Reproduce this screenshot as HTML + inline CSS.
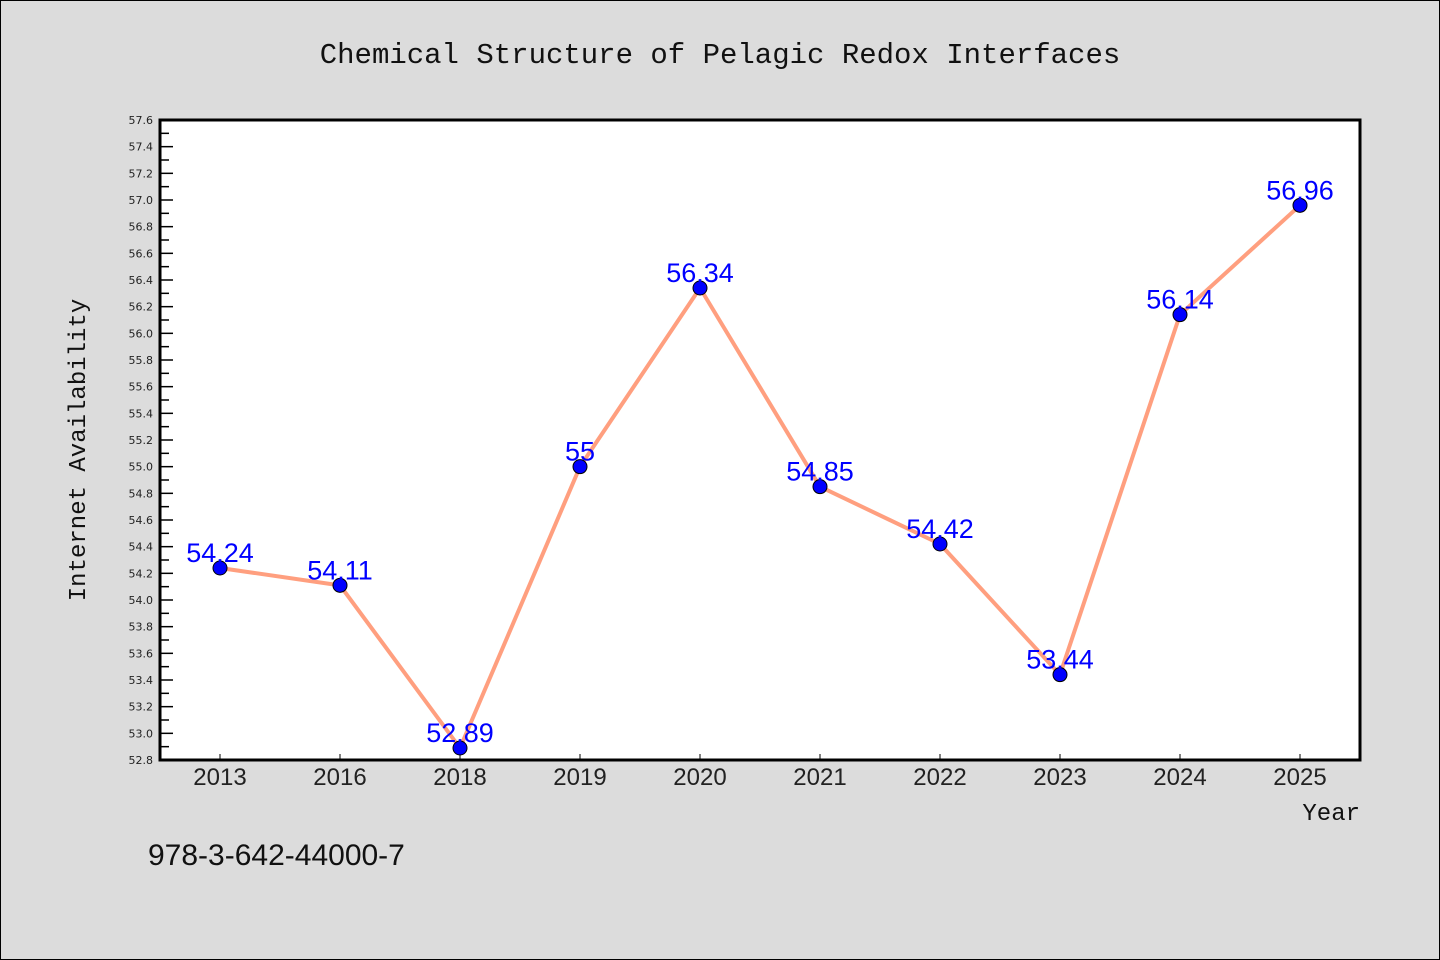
<!DOCTYPE html>
<html><head><meta charset="utf-8"><style>
body{margin:0;background:#dcdcdc;}
svg{display:block;font-family:"Liberation Mono","Noto Sans CJK SC",monospace;}
</style></head><body>
<svg id="chart" width="1440" height="960" xmlns="http://www.w3.org/2000/svg">
<rect x="0.5" y="0.5" width="1439" height="959" fill="#dcdcdc" stroke="#000" stroke-width="1"/>
<text x="720" y="63" text-anchor="middle" font-size="29" fill="#111">Chemical Structure of Pelagic Redox Interfaces</text>
<rect x="160" y="120" width="1200" height="640" fill="#fff"/>
<g id="yticks"></g>
<g id="xticks"></g>
<g id="series"></g>
<rect x="160" y="120" width="1200" height="640" fill="none" stroke="#000" stroke-width="3"/>
<text transform="translate(85,450) rotate(-90)" text-anchor="middle" font-size="24" fill="#111">Internet Availability</text>
<text x="1360" y="820" text-anchor="end" font-size="24" fill="#111">Year</text>
<text x="148" y="865" font-size="30" fill="#111" font-family="Liberation Sans, sans-serif">978-3-642-44000-7</text>
</svg>
<script>
const categories=["2013","2016","2018","2019","2020","2021","2022","2023","2024","2025"];
const values=[54.24,54.11,52.89,55,56.34,54.85,54.42,53.44,56.14,56.96];
const labels=["54.24","54.11","52.89","55","56.34","54.85","54.42","53.44","56.14","56.96"];
const yMin=52.8,yMax=57.6;
const NS="http://www.w3.org/2000/svg";
const L=160,R=1360,T=120,B=760;
function x(i){return L+(R-L)/categories.length*(i+0.5);}
function y(v){return B-(v-yMin)/(yMax-yMin)*(B-T);}
function mk(tag,attrs,parent){const e=document.createElementNS(NS,tag);for(const k in attrs)e.setAttribute(k,attrs[k]);parent.appendChild(e);return e;}
const yt=document.getElementById('yticks');
for(let k=0;k<=48;k++){
  const v=yMin+k*0.1;const yy=y(v);const major=k%2===0;
  const ln=mk('line',{x1:L,x2:L+(major?13:9),y1:yy,y2:yy,stroke:'#000','stroke-width':1.5},yt);
  
  
  if(major){
    const t=mk('text',{x:153,y:yy+4,'text-anchor':'end','font-size':11,fill:'#222','font-family':'DejaVu Sans, sans-serif'},yt);
    
    
    t.textContent=v.toFixed(1);
  }
}
const xt=document.getElementById('xticks');
categories.forEach((c,i)=>{
  const ln=mk('line',{x1:x(i),x2:x(i),y1:B,y2:B-6,stroke:'#000','stroke-width':1},xt);
  
  
  const t=mk('text',{x:x(i),y:785,'text-anchor':'middle','font-size':24,fill:'#222','font-family':'Liberation Sans, sans-serif'},xt);
  
  
  t.textContent=c;
});
const s=document.getElementById('series');
const pl=mk('polyline',{points:values.map((v,i)=>x(i)+','+y(v)).join(' '),fill:'none',stroke:'#ff9f7f','stroke-width':4,'stroke-linejoin':'round'},s);


values.forEach((v,i)=>{
  const c=mk('circle',{cx:x(i),cy:y(v),r:7,fill:'#0000ff',stroke:'#000','stroke-width':1},s);
  
  
});
values.forEach((v,i)=>{
  const t=mk('text',{x:x(i),y:y(v)-6,'text-anchor':'middle','font-size':27,fill:'#0000ff','font-family':'Liberation Sans, sans-serif'},s);
  
  
  t.textContent=labels[i];
});
</script>
</body></html>
